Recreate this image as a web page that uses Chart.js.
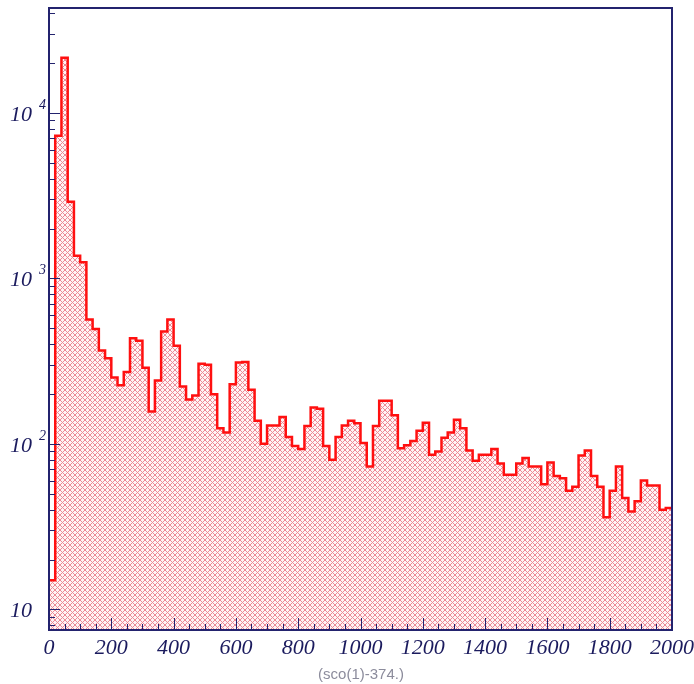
<!DOCTYPE html>
<html>
<head>
<meta charset="utf-8">
<script src="https://cdn.jsdelivr.net/npm/chart.js@4/dist/chart.umd.min.js"></script>
<style>
html, body { margin: 0; padding: 0; background: #fff; }
canvas { display: block; }
</style>
</head>
<body>
<canvas id="histo" width="694" height="684"></canvas>
<script>
// Histogram of (sco(1)-374.) : 100 bins of width 20 between 0 and 2000, log y

const binLow = 0;
const binWidth = 20;
const counts = [
    15, 7260, 21500, 2900, 1370, 1250, 563, 494, 366, 329,
    252, 226, 272, 434, 420, 288, 157, 241, 478, 563,
    392, 222, 185, 196, 305, 300, 199, 124, 117, 229,
    310, 312, 212, 138, 100, 129, 129, 145, 110, 97,
    93, 128, 166, 163, 97, 80, 110, 129, 138, 133,
    101, 73, 128, 182, 182, 149, 94, 98, 104, 120,
    134, 86, 90, 109, 117, 140, 124, 91, 79, 86,
    86, 93, 76, 65, 65, 76, 82, 73, 73, 57,
    77, 64, 62, 52, 55, 85, 91, 64, 55, 36,
    52, 73, 47, 39, 45, 60, 56, 56, 40, 41
];

const xTickLabels = [0, 200, 400, 600, 800, 1000, 1200, 1400, 1600, 1800, 2000];
const yDecades = [10, 100, 1000, 10000];
const yExponents = ['', '2', '3', '4'];
const xTitle = '(sco(1)-374.)';
const xRange = [0, 2000];
const yRange = [7.5, 43000];

const navy = '#23236e';
const labelColor = '#1b1b5e';
const histRed = '#ff1010';

// cross-hatch fill like the PAW style, drawn pixel by pixel so it stays crisp
function makeHatch() {
    const n = 5;
    const c = document.createElement('canvas');
    c.width = n;
    c.height = n;
    const g = c.getContext('2d');
    g.fillStyle = '#fff4f5';
    g.fillRect(0, 0, n, n);
    g.fillStyle = 'rgb(236, 138, 150)';
    for (let i = 0; i < n; i++) {
        g.fillRect(i, i, 1, 1);
        g.fillRect(n - 1 - i, i, 1, 1);
    }
    return document.getElementById('histo').getContext('2d').createPattern(c, 'repeat');
}

// step points at the left edge of each bin, plus the closing edge
const points = counts.map((c, i) => ({ x: binLow + i * binWidth, y: c }));
points.push({ x: binLow + counts.length * binWidth, y: counts[counts.length - 1] });

// frame, ticks and labels drawn by hand in the PAW look
const pawFrame = {
    id: 'pawFrame',
    afterDraw(chart) {
        const ctx = chart.ctx;
        const a = chart.chartArea;
        const xs = chart.scales.x;
        const ys = chart.scales.y;
        ctx.save();

        // ticks
        ctx.strokeStyle = navy;
        ctx.lineWidth = 1;
        ctx.beginPath();
        for (let v = xRange[0] + 50; v < xRange[1]; v += 50) {
            const px = Math.round(xs.getPixelForValue(v)) + 0.5;
            const len = v % 200 === 0 ? 12 : 6;
            ctx.moveTo(px, a.bottom);
            ctx.lineTo(px, a.bottom - len);
        }
        for (let d = 1; d <= 10000; d *= 10) {
            for (let m = 1; m <= 9; m++) {
                const v = d * m;
                if (v < yRange[0] || v > yRange[1]) continue;
                const py = Math.round(ys.getPixelForValue(v)) + 0.5;
                const len = m === 1 ? 11 : 6;
                ctx.moveTo(a.left, py);
                ctx.lineTo(a.left + len, py);
            }
        }
        ctx.stroke();

        // frame
        ctx.lineWidth = 2;
        ctx.strokeRect(a.left, a.top, a.right - a.left, a.bottom - a.top);

        // x tick labels
        ctx.fillStyle = labelColor;
        ctx.font = 'italic 22px "Liberation Serif", serif';
        ctx.textAlign = 'center';
        ctx.textBaseline = 'middle';
        xTickLabels.forEach(v => {
            ctx.fillText(String(v), xs.getPixelForValue(v), a.bottom + 18);
        });

        // y tick labels, 10 with exponent
        yDecades.forEach((v, i) => {
            const py = ys.getPixelForValue(v);
            ctx.font = 'italic 22px "Liberation Serif", serif';
            ctx.textAlign = 'left';
            ctx.fillText('10', 10, py + 2);
            if (yExponents[i]) {
                ctx.font = 'italic 14px "Liberation Serif", serif';
                ctx.fillText(yExponents[i], 39, py - 8);
            }
        });

        // axis title
        ctx.fillStyle = '#8c8c9c';
        ctx.font = '15px "Liberation Sans", sans-serif';
        ctx.textAlign = 'center';
        ctx.fillText(xTitle, 361, 675);

        ctx.restore();
    }
};

new Chart(document.getElementById('histo'), {
    type: 'line',
    data: {
        datasets: [{
            data: points,
            stepped: 'before',
            borderColor: histRed,
            borderWidth: 2.5,
            backgroundColor: makeHatch(),
            fill: 'start',
            pointRadius: 0,
            tension: 0
        }]
    },
    options: {
        responsive: false,
        animation: false,
        layout: { padding: { left: 49, top: 8, right: 22, bottom: 54 } },
        plugins: {
            legend: { display: false },
            tooltip: { enabled: false }
        },
        scales: {
            x: { type: 'linear', min: xRange[0], max: xRange[1], display: false },
            y: { type: 'logarithmic', min: yRange[0], max: yRange[1], display: false }
        }
    },
    plugins: [pawFrame]
});
</script>
</body>
</html>
